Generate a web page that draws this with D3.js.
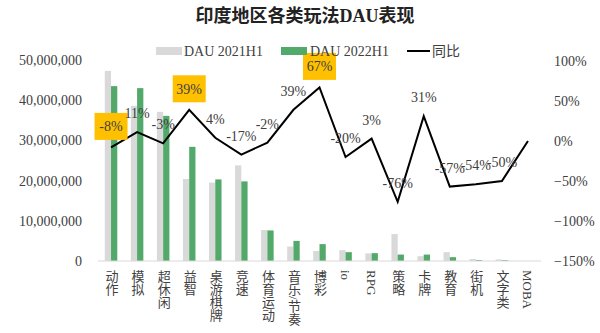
<!DOCTYPE html>
<html><head><meta charset="utf-8">
<script src="https://cdn.jsdelivr.net/npm/d3@7"></script>
<style>
body{margin:0;background:#fff;}
svg{display:block;}
text{font-family:"Liberation Serif","Noto Sans CJK SC",serif;}
</style>
</head><body>
<svg id="chart" width="600" height="333"></svg>
<script>
const title = "印度地区各类玩法DAU表现";
const categories = ["动作","模拟","超休闲","益智","桌游棋牌","竞速","体育运动","音乐/节奏","博彩","io","RPG","策略","卡牌","教育","街机","文字类","MOBA"];
const dau2021 = [47300000,38600000,37100000,20400000,19500000,23800000,7700000,3600000,2500000,2700000,1900000,6700000,1200000,2200000,500000,400000,0];
const dau2022 = [43500000,43000000,36100000,28400000,20300000,19800000,7600000,5000000,4200000,2200000,1950000,1600000,1600000,950000,230000,200000,0];
const yoy = [-0.08,0.11,-0.03,0.39,0.04,-0.17,-0.02,0.39,0.67,-0.20,0.03,-0.76,0.31,-0.57,-0.54,-0.50,0];
const highlighted = ["动作","益智","博彩"];
const leftTicks = [0,10000000,20000000,30000000,40000000,50000000];
const rightTicks = [-1.5,-1,-0.5,0,0.5,1];
const seriesNames = ["DAU 2021H1","DAU 2022H1","同比"];

const svg = d3.select("#chart");
const textColor = "#404040";
const grayC = "#d9d9d9", greenC = "#52a96a";

const x = d3.scaleBand().domain(categories).range([98, 541]).padding(0);
const yL = d3.scaleLinear().domain([0, 50000000]).range([261, 60]);
const yR = d3.scaleLinear().domain([-1.5, 1]).range([261, 61]);
const bw = x.bandwidth();
const barW = bw * 0.24;
const cx = c => x(c) + bw / 2;

// Title
svg.append("text").attr("x", 305).attr("y", 16).attr("dy", "0.35em")
  .attr("text-anchor", "middle").attr("font-size", 18).attr("font-weight", "bold")
  .attr("fill", "#222").text(title);

// Left axis labels
const fmtL = d3.format(",");
svg.append("g").selectAll("text").data(leftTicks).join("text")
  .attr("x", 82).attr("y", d => yL(d)).attr("dy", "0.35em")
  .attr("text-anchor", "end").attr("font-size", 14).attr("fill", textColor)
  .text(d => fmtL(d));

// Right axis labels
const fmtR = d3.format(".0%");
svg.append("g").selectAll("text").data(rightTicks).join("text")
  .attr("x", 554).attr("y", d => yR(d)).attr("dy", "0.35em")
  .attr("text-anchor", "start").attr("font-size", 14).attr("fill", textColor)
  .text(d => fmtR(d));

// Bars
const g = svg.append("g");
g.selectAll("rect.b21").data(categories).join("rect").attr("class","b21")
  .attr("x", c => cx(c) - barW).attr("width", barW)
  .attr("y", (c,i) => yL(dau2021[i])).attr("height", (c,i) => yL(0) - yL(dau2021[i]))
  .attr("fill", grayC);
g.selectAll("rect.b22").data(categories).join("rect").attr("class","b22")
  .attr("x", c => cx(c)).attr("width", barW)
  .attr("y", (c,i) => yL(dau2022[i])).attr("height", (c,i) => yL(0) - yL(dau2022[i]))
  .attr("fill", greenC);

// Baseline
svg.append("line").attr("x1", 98).attr("x2", 541).attr("y1", yL(0)).attr("y2", yL(0))
  .attr("stroke", "#d9d9d9").attr("stroke-width", 1);

// Category labels (vertical)
svg.append("g").selectAll("text").data(categories).join("text")
  .attr("x", c => cx(c)).attr("y", 270)
  .attr("font-size", 13).attr("fill", textColor)
  .style("writing-mode", "vertical-rl")
  .text(c => c);

// Line
const line = d3.line().x((d,i) => cx(categories[i])).y(d => yR(d));
svg.append("path").datum(yoy).attr("d", line)
  .attr("fill", "none").attr("stroke", "#000").attr("stroke-width", 2).attr("stroke-linejoin","miter");

// Data labels
const fmtP = d3.format(".0%");
const lab = svg.append("g");
yoy.forEach((v, i) => {
  if (dau2021[i] === 0) return;
  const c = categories[i];
  const hl = highlighted.includes(c);
  const ty = yR(v) - (hl ? 21 : 19);
  if (hl) {
    lab.append("rect").attr("x", cx(c) - 16.5).attr("y", ty - 13.5)
      .attr("width", 33).attr("height", 27).attr("fill", "#FFC000");
  }
  lab.append("text").attr("x", cx(c)).attr("y", ty).attr("dy", "0.35em")
    .attr("text-anchor", "middle").attr("font-size", 14).attr("fill", textColor)
    .text(fmtP(v).replace("−","-"));
});

// Legend
const lg = svg.append("g");
lg.append("rect").attr("x", 156).attr("y", 47).attr("width", 26).attr("height", 8).attr("fill", grayC);
lg.append("text").attr("x", 184).attr("y", 51).attr("dy","0.35em").attr("font-size", 14).attr("fill", textColor).text(seriesNames[0]);
lg.append("rect").attr("x", 281).attr("y", 47).attr("width", 26).attr("height", 8).attr("fill", greenC);
lg.append("text").attr("x", 310).attr("y", 51).attr("dy","0.35em").attr("font-size", 14).attr("fill", textColor).text(seriesNames[1]);
lg.append("line").attr("x1", 407).attr("x2", 430).attr("y1", 51).attr("y2", 51).attr("stroke", "#000").attr("stroke-width", 2);
lg.append("text").attr("x", 432).attr("y", 51).attr("dy","0.35em").attr("font-size", 14).attr("fill", textColor).text(seriesNames[2]);
</script>
</body></html>
